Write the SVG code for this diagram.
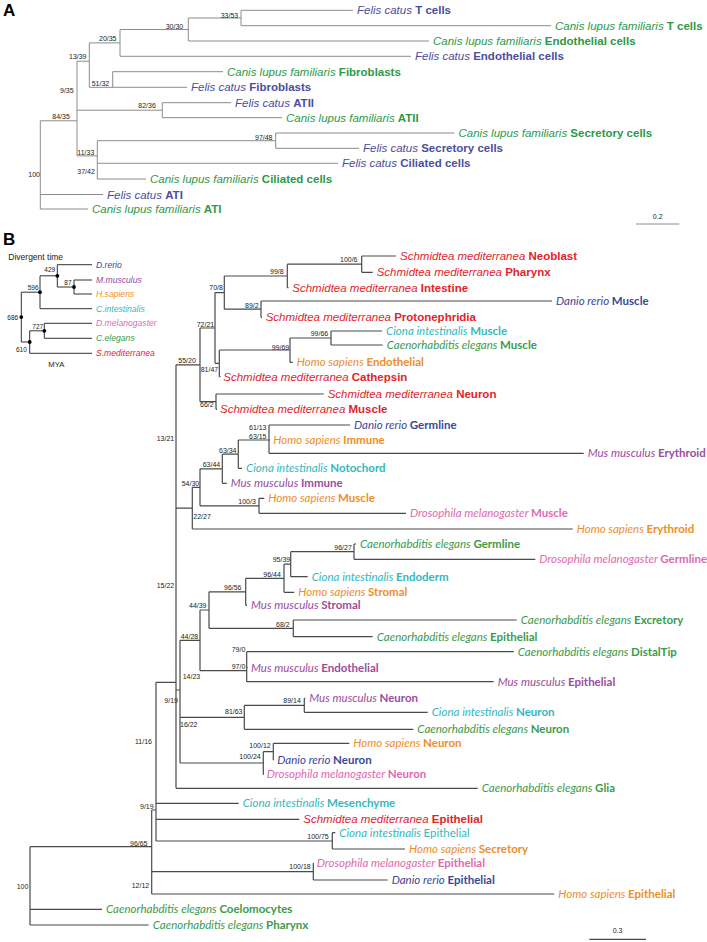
<svg xmlns="http://www.w3.org/2000/svg" width="707" height="942" viewBox="0 0 707 942">
<style>
.lA{fill:none;stroke:#8c8c8c;stroke-width:1}
.lB{fill:none;stroke:#4a4a4a;stroke-width:1.2}
.lI{fill:none;stroke:#333;stroke-width:1}
.ar{font-family:"Liberation Sans",Arial,sans-serif;font-size:11.5px}
.my{font-family:Lato,"Liberation Sans",sans-serif;font-size:11.5px}
.i{font-style:italic}
.b{font-weight:bold}
.sv{font-family:"Liberation Sans",Arial,sans-serif;font-size:7px;fill:#222}
.inl{font-family:"Liberation Sans",Arial,sans-serif;font-size:8.6px;font-style:italic}
.iv{font-family:"Liberation Sans",Arial,sans-serif;font-size:6.5px;fill:#222}
.pl{font-family:"Liberation Sans",Arial,sans-serif;font-size:17px;font-weight:bold;fill:#000}
.F{fill:#4a4e9c}.C{fill:#2e9848}.R{fill:#e1242a}.Bl{fill:#3a4799}.Cy{fill:#36b7be}.G{fill:#3d9a4b}.O{fill:#f08d27}.P{fill:#9a4d9c}.K{fill:#e06aaf}
</style>

<text class="pl" x="3" y="16">A</text>
<text class="pl" x="3" y="245">B</text>

<!-- Panel A connectors -->
<g id="connectors-A">
<path class="lA" d="M241 10.3H353M241 25.7H551M188.3 41H429M120 56.3H411M112.7 71.7H223M89.3 87.3H187M162.3 102.7H231M162.3 117.7H282M275.7 133H454.5M275.7 148.3H359M97.3 163.3H338M97.3 179H146M40.3 194.5H103M40.3 209H88
M241 10.3V25.7M188.3 18V41M120 29.5V56.3M112.7 71.7V87.3M89.3 42.9V87.3M77 61.2V155.9M162.3 102.7V117.7M275.7 133V148.3M97.3 140.7V179M40.3 120.8V209
M188.3 18H241M120 29.5H188.3M89.3 42.9H120M77 61.2H89.3M77 110.2H162.3M97.3 140.7H275.7M77 155.9H97.3M40.3 120.8H77"/>
<path class="lA" d="M636 224H679.3"/>
</g>
<text class="sv" x="657.7" y="219" text-anchor="middle" font-size="8">0.2</text>

<g id="support-A">
<text class="sv" x="220.7" y="17.5">33/53</text>
<text class="sv" x="165.7" y="28.5">30/30</text>
<text class="sv" x="99" y="41.2">20/35</text>
<text class="sv" x="69" y="59.2">13/39</text>
<text class="sv" x="91.7" y="85.5">51/32</text>
<text class="sv" x="60" y="93.2">9/35</text>
<text class="sv" x="52.3" y="119">84/35</text>
<text class="sv" x="138.3" y="108.2">82/36</text>
<text class="sv" x="255" y="139.8">97/48</text>
<text class="sv" x="77.3" y="154.5">11/33</text>
<text class="sv" x="77.3" y="174.2">37/42</text>
<text class="sv" x="28.3" y="176.5">100</text>
</g>

<g id="A-felis-tcells"><text class="ar F" x="357" y="14.3"><tspan class="i">Felis catus </tspan><tspan class="b">T cells</tspan></text></g>
<g id="A-canis-tcells"><text class="ar C" x="555" y="29.7"><tspan class="i">Canis lupus familiaris </tspan><tspan class="b">T cells</tspan></text></g>
<g id="A-canis-endo"><text class="ar C" x="433" y="45"><tspan class="i">Canis lupus familiaris </tspan><tspan class="b">Endothelial cells</tspan></text></g>
<g id="A-felis-endo"><text class="ar F" x="415" y="60.3"><tspan class="i">Felis catus </tspan><tspan class="b">Endothelial cells</tspan></text></g>
<g id="A-canis-fibro"><text class="ar C" x="227" y="75.7"><tspan class="i">Canis lupus familiaris </tspan><tspan class="b">Fibroblasts</tspan></text></g>
<g id="A-felis-fibro"><text class="ar F" x="191" y="91.3"><tspan class="i">Felis catus </tspan><tspan class="b">Fibroblasts</tspan></text></g>
<g id="A-felis-atii"><text class="ar F" x="235" y="106.7"><tspan class="i">Felis catus </tspan><tspan class="b">ATII</tspan></text></g>
<g id="A-canis-atii"><text class="ar C" x="286" y="121.7"><tspan class="i">Canis lupus familiaris </tspan><tspan class="b">ATII</tspan></text></g>
<g id="A-canis-secr"><text class="ar C" x="458.5" y="137"><tspan class="i">Canis lupus familiaris </tspan><tspan class="b">Secretory cells</tspan></text></g>
<g id="A-felis-secr"><text class="ar F" x="363" y="152.3"><tspan class="i">Felis catus </tspan><tspan class="b">Secretory cells</tspan></text></g>
<g id="A-felis-cil"><text class="ar F" x="342" y="167.3"><tspan class="i">Felis catus </tspan><tspan class="b">Ciliated cells</tspan></text></g>
<g id="A-canis-cil"><text class="ar C" x="150" y="183"><tspan class="i">Canis lupus familiaris </tspan><tspan class="b">Ciliated cells</tspan></text></g>
<g id="A-felis-ati"><text class="ar F" x="107" y="198.5"><tspan class="i">Felis catus </tspan><tspan class="b">ATI</tspan></text></g>
<g id="A-canis-ati"><text class="ar C" x="92" y="213"><tspan class="i">Canis lupus familiaris </tspan><tspan class="b">ATI</tspan></text></g>

<!-- Inset: divergent time -->
<g id="inset">
<text x="8.3" y="260.3" font-family="Liberation Sans, Arial, sans-serif" font-size="8.5" fill="#222">Divergent time</text>
<path class="lI" d="M57.3 264.7H92M74 280H92M74 294H92M74 280V294M57.3 287H74M57.3 264.7V287M40 275.8H57.3M40 308.7H92M40 275.8V308.7M21.3 292.2H40M44.3 323.3H92M44.3 338.3H92M44.3 323.3V338.3M29.7 330.8H44.3M29.7 353.3H92M29.7 330.8V353.3M21.3 342H29.7M21.3 292.2V342"/>
<g fill="#000"><circle cx="74" cy="287" r="1.9"/><circle cx="57.3" cy="275.8" r="1.9"/><circle cx="40" cy="292.2" r="1.9"/><circle cx="44.3" cy="330.8" r="1.9"/><circle cx="29.7" cy="342" r="1.9"/><circle cx="21.3" cy="317.1" r="1.9"/></g>
<text class="iv" x="44.3" y="271.5">429</text>
<text class="iv" x="64.3" y="285">87</text>
<text class="iv" x="27.7" y="289.5">596</text>
<text class="iv" x="32.3" y="329">727</text>
<text class="iv" x="16" y="351.5">610</text>
<text class="iv" x="7.3" y="319.5">686</text>
<text class="inl Bl" x="96" y="267.8">D.rerio</text>
<text class="inl P" x="96" y="283.1">M.musculus</text>
<text class="inl O" x="96" y="297.1">H.sapiens</text>
<text class="inl Cy" x="96" y="311.8">C.intestinalis</text>
<text class="inl K" x="96" y="326.4">D.melanogaster</text>
<text class="inl G" x="96" y="341.4">C.elegans</text>
<text class="inl R" x="96" y="356.4">S.mediterranea</text>
<text x="48.3" y="366.8" font-family="Liberation Sans, Arial, sans-serif" font-size="7.7" fill="#222">MYA</text>
</g>

<!-- Panel B connectors -->
<g id="connectors-B">
<path class="lB" d="M361.7 256H396M361.7 272.3H372.7M287.3 287.7H288.5M261 301H552M261 317.3H262M331 331H382M331 345H382.7M290 362.3H292.7M219.3 376.7H220.5M216 394H323.7M216 409.3H217M269 425H350M269 440H270M269 453.3H583.7M238.3 468.3H242M222.3 483.3H226.7M259 498.3H264.3M259 513.3H406M192.3 529H572.7M354 544H356M354 559.3H535.3M290.7 576.7H307.7M284 592.3H294.3M245.7 605.3H247M293.3 620H516.7M293.3 636.7H372.7M246.7 651.7H513.7M246.7 667.7H247.5M246.7 681.7H493.7M304.3 698.3H305.3M304.3 712.3H427.7M244.3 729.3H413.3M273.3 743.3H349.3M273.3 760H274M263.3 774.3H264M176 788.3H477.7M156 803.3H238.7M156 819.3H299.3M332.3 832.7H335.3M332.3 849H405M313.3 863.3H314M313.3 880H387.7M151.7 894H554.3M30 909.3H102M30 925H148.7"/>
<path class="lB" d="M361.7 256V272.3M287.3 264.2H361.7M287.3 264.2V287.7M261 301V317.3M224.3 276H287.3M224.3 309.2H261M224.3 276V309.2M331 331V345M290 338H331M290 338V362.3M219.3 350H290M219.3 350V376.7M215 292.6H224.3M215 363.3H219.3M215 292.6V363.3M216 394V409.3M200 328H215M200 401.7H216M200 328V401.7M176 364.8H200M176 364.8V788.3M269 425V453.3M238.3 440H269M238.3 440V468.3M222.3 454.2H238.3M222.3 454.2V483.3M259 498.3V513.3M200 468.8H222.3M200 505.8H259M200 468.8V505.8M192.3 487.3H200M192.3 487.3V529M176 508.2H192.3M354 544V559.3M290.7 551.7H354M290.7 551.7V576.7M284 564.2H290.7M284 564.2V592.3M245.7 578.3H284M245.7 578.3V605.3M293.3 620V636.7M209 591.8H245.7M209 628.3H293.3M209 591.8V628.3M246.7 651.7V681.7M200 610H209M200 670.7H246.7M200 610V670.7M304.3 698.3V712.3M244.3 705.3H304.3M244.3 705.3V729.3M273.3 743.3V760M263.3 751.7H273.3M263.3 751.7V774.3M180 640.3H200M180 717.3H244.3M180 763H263.3M180 640.3V763M176 690H180M156 682.3H176M156 682.3V841M332.3 832.7V849M156 841H332.3M313.3 863.3V880M151.7 810H156M151.7 871.7H313.3M151.7 810V894M30 846.7H151.7M30 846.7V925"/>
<path class="lB" d="M589.3 939.3H646"/>
</g>
<text class="sv" x="617.5" y="933" text-anchor="middle" font-size="8">0.3</text>

<g id="support-B">
<text class="sv" x="340" y="261.5">100/6</text>
<text class="sv" x="270" y="273.5">99/8</text>
<text class="sv" x="245" y="307.5">89/2</text>
<text class="sv" x="209.3" y="290">70/8</text>
<text class="sv" x="196.7" y="326.5">72/21</text>
<text class="sv" x="310.7" y="336">99/66</text>
<text class="sv" x="271.7" y="349.5">99/69</text>
<text class="sv" x="200.7" y="371.5">81/47</text>
<text class="sv" x="178.3" y="362.5">55/20</text>
<text class="sv" x="200" y="406.8">66/2</text>
<text class="sv" x="156.7" y="440.8">13/21</text>
<text class="sv" x="249" y="429.8">61/13</text>
<text class="sv" x="249" y="439">63/15</text>
<text class="sv" x="219" y="453">63/34</text>
<text class="sv" x="202.7" y="467">63/44</text>
<text class="sv" x="181.7" y="486">54/30</text>
<text class="sv" x="238.3" y="504.3">100/3</text>
<text class="sv" x="193.3" y="519.2">22/27</text>
<text class="sv" x="334.3" y="549.8">96/27</text>
<text class="sv" x="272.7" y="561.8">95/39</text>
<text class="sv" x="263.3" y="576.5">96/44</text>
<text class="sv" x="224" y="589.8">96/56</text>
<text class="sv" x="156.7" y="587.5">15/22</text>
<text class="sv" x="189" y="607.5">44/39</text>
<text class="sv" x="276" y="626.5">68/2</text>
<text class="sv" x="180.7" y="639">44/28</text>
<text class="sv" x="231.7" y="651.8">79/0</text>
<text class="sv" x="231.7" y="668.5">97/0</text>
<text class="sv" x="182.7" y="679.2">14/23</text>
<text class="sv" x="164.3" y="702.5">9/19</text>
<text class="sv" x="180" y="726.8">16/22</text>
<text class="sv" x="283.3" y="702.5">89/14</text>
<text class="sv" x="225" y="714.2">81/63</text>
<text class="sv" x="135" y="744.2">11/16</text>
<text class="sv" x="249.3" y="747.5">100/12</text>
<text class="sv" x="239.3" y="759.2">100/24</text>
<text class="sv" x="140" y="809.2">9/19</text>
<text class="sv" x="307.3" y="839.2">100/75</text>
<text class="sv" x="130" y="845.8">96/65</text>
<text class="sv" x="289.3" y="869.2">100/18</text>
<text class="sv" x="131.7" y="887.5">12/12</text>
<text class="sv" x="16.7" y="889.2">100</text>
</g>

<g id="B-sm-neoblast"><text class="ar R" x="400" y="260"><tspan class="i">Schmidtea mediterranea </tspan><tspan class="b">Neoblast</tspan></text></g>
<g id="B-sm-pharynx"><text class="ar R" x="376.7" y="276.3"><tspan class="i">Schmidtea mediterranea </tspan><tspan class="b">Pharynx</tspan></text></g>
<g id="B-sm-intestine"><text class="ar R" x="292.3" y="291.7"><tspan class="i">Schmidtea mediterranea </tspan><tspan class="b">Intestine</tspan></text></g>
<g id="B-dr-muscle"><text class="my Bl" x="556" y="305"><tspan class="i">Danio rerio </tspan><tspan class="b">Muscle</tspan></text></g>
<g id="B-sm-protonephridia"><text class="ar R" x="265.7" y="321.3"><tspan class="i">Schmidtea mediterranea </tspan><tspan class="b">Protonephridia</tspan></text></g>
<g id="B-ci-muscle"><text class="my Cy" x="386" y="335"><tspan class="i">Ciona intestinalis </tspan><tspan class="b">Muscle</tspan></text></g>
<g id="B-ce-muscle"><text class="my G" x="386.7" y="349"><tspan class="i">Caenorhabditis elegans </tspan><tspan class="b">Muscle</tspan></text></g>
<g id="B-hs-endothelial"><text class="my O" x="296.7" y="366.3"><tspan class="i">Homo sapiens </tspan><tspan class="b">Endothelial</tspan></text></g>
<g id="B-sm-cathepsin"><text class="ar R" x="223.3" y="380.7"><tspan class="i">Schmidtea mediterranea </tspan><tspan class="b">Cathepsin</tspan></text></g>
<g id="B-sm-neuron"><text class="ar R" x="327.7" y="398"><tspan class="i">Schmidtea mediterranea </tspan><tspan class="b">Neuron</tspan></text></g>
<g id="B-sm-muscle"><text class="ar R" x="220" y="413.3"><tspan class="i">Schmidtea mediterranea </tspan><tspan class="b">Muscle</tspan></text></g>
<g id="B-dr-germline"><text class="my Bl" x="354" y="429"><tspan class="i">Danio rerio </tspan><tspan class="b">Germline</tspan></text></g>
<g id="B-hs-immune"><text class="my O" x="273.3" y="444"><tspan class="i">Homo sapiens </tspan><tspan class="b">Immune</tspan></text></g>
<g id="B-mm-erythroid"><text class="my P" x="587.7" y="457.3"><tspan class="i">Mus musculus </tspan><tspan class="b">Erythroid</tspan></text></g>
<g id="B-ci-notochord"><text class="my Cy" x="246" y="472.3"><tspan class="i">Ciona intestinalis </tspan><tspan class="b">Notochord</tspan></text></g>
<g id="B-mm-immune"><text class="my P" x="230.7" y="487.3"><tspan class="i">Mus musculus </tspan><tspan class="b">Immune</tspan></text></g>
<g id="B-hs-muscle"><text class="my O" x="268.3" y="502.3"><tspan class="i">Homo sapiens </tspan><tspan class="b">Muscle</tspan></text></g>
<g id="B-dm-muscle"><text class="my K" x="410" y="517.3"><tspan class="i">Drosophila melanogaster </tspan><tspan class="b">Muscle</tspan></text></g>
<g id="B-hs-erythroid"><text class="my O" x="576.7" y="533"><tspan class="i">Homo sapiens </tspan><tspan class="b">Erythroid</tspan></text></g>
<g id="B-ce-germline"><text class="my G" x="360" y="548"><tspan class="i">Caenorhabditis elegans </tspan><tspan class="b">Germline</tspan></text></g>
<g id="B-dm-germline"><text class="my K" x="539.3" y="563.3"><tspan class="i">Drosophila melanogaster </tspan><tspan class="b">Germline</tspan></text></g>
<g id="B-ci-endoderm"><text class="my Cy" x="311.7" y="580.7"><tspan class="i">Ciona intestinalis </tspan><tspan class="b">Endoderm</tspan></text></g>
<g id="B-hs-stromal"><text class="my O" x="298.3" y="596.3"><tspan class="i">Homo sapiens </tspan><tspan class="b">Stromal</tspan></text></g>
<g id="B-mm-stromal"><text class="my P" x="251" y="609.3"><tspan class="i">Mus musculus </tspan><tspan class="b">Stromal</tspan></text></g>
<g id="B-ce-excretory"><text class="my G" x="520.7" y="624"><tspan class="i">Caenorhabditis elegans </tspan><tspan class="b">Excretory</tspan></text></g>
<g id="B-ce-epithelial"><text class="my G" x="376.7" y="640.7"><tspan class="i">Caenorhabditis elegans </tspan><tspan class="b">Epithelial</tspan></text></g>
<g id="B-ce-distaltip"><text class="my G" x="517.7" y="655.7"><tspan class="i">Caenorhabditis elegans </tspan><tspan class="b">DistalTip</tspan></text></g>
<g id="B-mm-endothelial"><text class="my P" x="251" y="671.7"><tspan class="i">Mus musculus </tspan><tspan class="b">Endothelial</tspan></text></g>
<g id="B-mm-epithelial"><text class="my P" x="497.7" y="685.7"><tspan class="i">Mus musculus </tspan><tspan class="b">Epithelial</tspan></text></g>
<g id="B-mm-neuron"><text class="my P" x="309.3" y="702.3"><tspan class="i">Mus musculus </tspan><tspan class="b">Neuron</tspan></text></g>
<g id="B-ci-neuron"><text class="my Cy" x="431.7" y="716.3"><tspan class="i">Ciona intestinalis </tspan><tspan class="b">Neuron</tspan></text></g>
<g id="B-ce-neuron"><text class="my G" x="417.3" y="733.3"><tspan class="i">Caenorhabditis elegans </tspan><tspan class="b">Neuron</tspan></text></g>
<g id="B-hs-neuron"><text class="my O" x="353.3" y="747.3"><tspan class="i">Homo sapiens </tspan><tspan class="b">Neuron</tspan></text></g>
<g id="B-dr-neuron"><text class="my Bl" x="277.3" y="764"><tspan class="i">Danio rerio </tspan><tspan class="b">Neuron</tspan></text></g>
<g id="B-dm-neuron"><text class="my K" x="266.7" y="778.3"><tspan class="i">Drosophila melanogaster </tspan><tspan class="b">Neuron</tspan></text></g>
<g id="B-ce-glia"><text class="my G" x="481.7" y="792.3"><tspan class="i">Caenorhabditis elegans </tspan><tspan class="b">Glia</tspan></text></g>
<g id="B-ci-mesenchyme"><text class="my Cy" x="242.7" y="807.3"><tspan class="i">Ciona intestinalis </tspan><tspan class="b">Mesenchyme</tspan></text></g>
<g id="B-sm-epithelial"><text class="ar R" x="303.3" y="823.3"><tspan class="i">Schmidtea mediterranea </tspan><tspan class="b">Epithelial</tspan></text></g>
<g id="B-ci-epithelial"><text class="my Cy" x="339.3" y="836.7"><tspan class="i">Ciona intestinalis </tspan><tspan>Epithelial</tspan></text></g>
<g id="B-hs-secretory"><text class="my O" x="409" y="853"><tspan class="i">Homo sapiens </tspan><tspan class="b">Secretory</tspan></text></g>
<g id="B-dm-epithelial"><text class="my K" x="316.7" y="867.3"><tspan class="i">Drosophila melanogaster </tspan><tspan class="b">Epithelial</tspan></text></g>
<g id="B-dr-epithelial"><text class="my Bl" x="391.7" y="884"><tspan class="i">Danio rerio </tspan><tspan class="b">Epithelial</tspan></text></g>
<g id="B-hs-epithelial"><text class="my O" x="558.3" y="898"><tspan class="i">Homo sapiens </tspan><tspan class="b">Epithelial</tspan></text></g>
<g id="B-ce-coelomocytes"><text class="my G" x="106" y="913.3"><tspan class="i">Caenorhabditis elegans </tspan><tspan class="b">Coelomocytes</tspan></text></g>
<g id="B-ce-pharynx"><text class="my G" x="152.7" y="929"><tspan class="i">Caenorhabditis elegans </tspan><tspan class="b">Pharynx</tspan></text></g>
</svg>
